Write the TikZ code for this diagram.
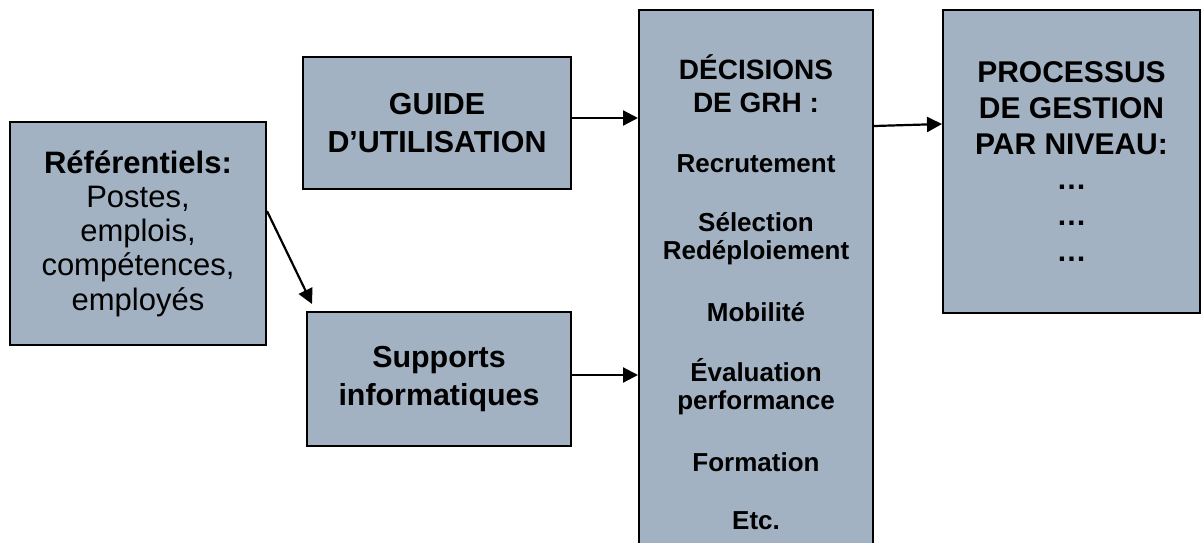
\documentclass[tikz,border=0pt]{standalone}
\usepackage{fontspec}
\setmainfont{Liberation Sans}
\usepackage{tikz}
\usetikzlibrary{arrows.meta, positioning, calc}
\definecolor{boxblue}{RGB}{163,178,194}
\def \hd {\fontsize{14}{14}\selectfont}
\def \it {\fontsize{13}{14}\selectfont}

\begin{document}
\begin{tikzpicture}[
	  x=0.5pt, y=-0.5pt,
	  block/.style={
	  	rectangle,
	  	draw=black,
	  	fill=boxblue,
	  	line width=1pt,
	  	inner sep=0pt,
	  	align=center
	  },
	  heading/.style={
	  	block,
	  	font=\bfseries\fontsize{15.2}{18.8}\selectfont
	  },
	  link/.style={
	  	-{Triangle[length=7.5pt,width=7.5pt]},
	  	line width=1.1pt
	  }]
	\useasboundingbox (0,0) rectangle (1201,542);
	% Inputs
	\node[block, minimum width=128pt, minimum height=111.5pt,
		font=\fontsize{15.5}{17.1}\selectfont] (ref) at (138,233.5)
		{\textbf{Référentiels:}\\Postes,\\emplois,\\compétences,\\employés};
	\node[heading, minimum width=134pt, minimum height=66pt] (guide) at (437,123)
		{GUIDE\\D’UTILISATION};
	\node[heading, minimum width=132pt, minimum height=67pt] (supp) at (439,379)
		{Supports\\informatiques};
	% Decisions
	\node[block, minimum width=117pt, minimum height=282.4pt,
		font=\bfseries\fontsize{13}{14}\selectfont] (dec) at (756,292.4)
		{\hd DÉCISIONS\\[2.5pt]
		\hd DE GRH :\\[16pt]
		\it Recrutement\\[15.5pt]
		\it Sélection\\
		\it Redéploiement\\[17pt]
		\it Mobilité\\[16pt]
		\it Évaluation\\
		\it performance\\[17pt]
		\it Formation\\[15pt]
		\it Etc.};
	% Output
	\node[block, minimum width=128.5pt, minimum height=151.5pt,
		font=\bfseries\fontsize{15}{17.9}\selectfont] (proc) at (1071.5,161.5)
		{PROCESSUS\\DE GESTION\\PAR NIVEAU:\\…\\…\\…};
	% Links
	\coordinate (supp in) at ($(supp.north west)+(6,-7)$);
	\draw[link] ($(ref.north east)!0.4!(ref.south east)$) -- (supp in);
	\draw[link] ($(guide.north east)+(0,62)$) -- ($(dec.north west)+(0,109)$);
	\draw[link] ($(supp.north east)+(0,64)$) -- ($(dec.north west)+(0,366)$);
	\draw[link] ($(dec.north east)+(0,117)$) -- ($(proc.north west)+(0,115)$);
\end{tikzpicture}
\end{document}
